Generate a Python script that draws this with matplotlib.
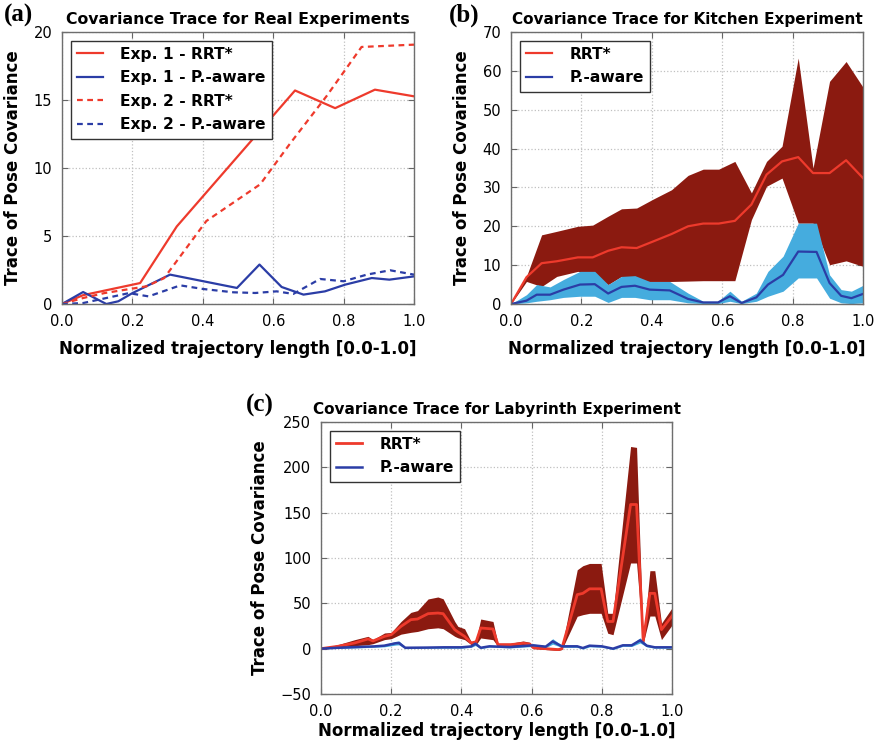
import matplotlib
matplotlib.use("Agg")
import matplotlib.pyplot as plt
from matplotlib.ticker import FormatStrFormatter

plt.rcParams["font.family"] = ["DejaVu Sans"]

RED = "#ee3a2c"
DARK_RED = "#8b1a10"
BLUE = "#2b3da6"
LIGHT_BLUE = "#45acde"

# ---- (a) real experiments ----
a_x1_rrt = [0, 0.06, 0.222, 0.326, 0.662, 0.776, 0.889, 1.0]
a_y1_rrt = [0, 0.65, 1.54, 5.7, 15.7, 14.4, 15.76, 15.27]
a_x1_pa = [0, 0.06, 0.126, 0.16, 0.2, 0.307, 0.497, 0.561, 0.624, 0.686, 0.747, 0.804, 0.88, 0.93, 1.0]
a_y1_pa = [0, 0.88, 0, 0.2, 0.8, 2.16, 1.18, 2.9, 1.25, 0.69, 0.93, 1.42, 1.91, 1.79, 2.03]
a_x2_rrt = [0, 0.06, 0.12, 0.24, 0.29, 0.41, 0.563, 0.648, 0.752, 0.851, 1.0]
a_y2_rrt = [0, 0.44, 0.8, 1.3, 1.9, 6.1, 8.8, 11.8, 15.3, 18.9, 19.07]
a_x2_pa = [0, 0.06, 0.19, 0.246, 0.336, 0.402, 0.487, 0.549, 0.61, 0.657, 0.733, 0.8, 0.866, 0.932, 1.0]
a_y2_pa = [0, 0.07, 0.8, 0.56, 1.37, 1.1, 0.86, 0.81, 0.93, 0.74, 1.84, 1.67, 2.16, 2.48, 2.16]

# ---- (b) kitchen ----
b_x_rrt = [0, 0.044, 0.087, 0.13, 0.19, 0.232, 0.276, 0.314, 0.357, 0.404, 0.456, 0.503,
           0.546, 0.59, 0.636, 0.683, 0.726, 0.77, 0.816, 0.858, 0.905, 0.952, 1.0]
b_rrt_mean = [0, 6.9, 10.5, 11.0, 12.0, 12.0, 13.7, 14.6, 14.4, 16.1, 18.0, 20.0,
              20.7, 20.7, 21.4, 25.6, 33.3, 36.7, 37.8, 33.7, 33.7, 37.0, 32.4]
b_rrt_upper = [0, 7.1, 17.8, 18.7, 20.0, 20.3, 22.6, 24.5, 24.7, 27.0, 29.4, 33.1,
               34.7, 34.7, 36.7, 28.6, 36.7, 40.6, 63.3, 35.0, 57.3, 62.4, 55.8]
b_rrt_lower = [0, 5.8, 4.5, 7.1, 8.4, 7.5, 5.0, 7.1, 5.8, 5.8, 5.8, 5.9,
               6.0, 6.0, 6.0, 21.7, 30.3, 32.4, 20.8, 20.8, 10.1, 11.1, 9.7]
b_x_pa = [0, 0.044, 0.073, 0.111, 0.149, 0.196, 0.238, 0.276, 0.314, 0.352, 0.394, 0.451, 0.503,
          0.546, 0.588, 0.622, 0.655, 0.697, 0.73, 0.773, 0.816, 0.868, 0.905, 0.938, 0.967, 1.0]
b_pa_mean = [0, 0.86, 2.4, 2.4, 3.7, 5.0, 5.1, 2.7, 4.4, 4.7, 3.7, 3.5, 1.3,
             0.4, 0.4, 2.0, 0.26, 1.7, 5.0, 7.5, 13.5, 13.4, 5.4, 2.1, 1.5, 2.6]
b_pa_upper = [0, 2.4, 5.0, 4.4, 6.3, 8.4, 8.4, 5.0, 7.1, 7.3, 5.8, 5.8, 2.8,
              0.7, 0.7, 3.3, 0.7, 2.8, 8.4, 12.3, 20.8, 20.8, 7.5, 3.7, 3.3, 4.8]
b_pa_lower = [0, 0.3, 0.7, 1.1, 1.7, 2.0, 2.0, 0.4, 1.7, 1.7, 1.1, 1.1, 0.3,
              0.1, 0.1, 0.7, 0.1, 0.7, 2.0, 3.3, 6.7, 6.7, 1.5, 0.3, 0.1, 0.3]

# ---- (c) labyrinth ----
c_x_rrt = [0.0, 0.048, 0.096, 0.134, 0.148, 0.181, 0.2, 0.228, 0.256, 0.275, 0.305, 0.333,
           0.348, 0.381, 0.39, 0.409, 0.428, 0.442, 0.455, 0.49, 0.504, 0.54, 0.576, 0.595,
           0.605, 0.64, 0.676, 0.686, 0.73, 0.746, 0.765, 0.798, 0.817, 0.832, 0.882, 0.899,
           0.918, 0.937, 0.951, 0.97, 1.0]
c_rrt_mean = [0, 2.6, 6.3, 10.7, 8.5, 13.6, 15.4, 24.6, 32, 32.7, 38.6, 39.3,
              38.6, 21, 18.4, 13.6, 6.3, 7.6, 22.8, 21.7, 4.4, 4.4, 6, 5,
              1, 0, -1, 0, 59.6, 61, 66, 66, 30, 30, 159, 159,
              8, 61, 61, 21, 36]
c_rrt_upper = [0, 4.4, 9.9, 13.6, 10, 17.3, 17.9, 30, 40, 42, 54.8, 57,
               55, 30, 24.6, 22, 7.6, 10, 32.7, 30, 6, 6, 8.5, 7,
               2, 1, 0, 1, 87, 91.5, 94, 94, 39, 39, 223, 222,
               10, 86, 86, 28, 45]
c_rrt_lower = [0, 2, 3.3, 4.4, 5.5, 10, 11, 16, 18, 19, 22, 23,
               22, 13.6, 12, 10, 4.4, 4.4, 11.8, 9.9, 2.5, 2.5, 3.5, 3,
               0, -1, -2, -1, 35.7, 37.5, 39, 39, 17, 15.4, 94.5, 94.5,
               6, 36, 36, 10, 26]
c_x_pa = [0, 0.05, 0.1, 0.15, 0.18, 0.213, 0.222, 0.24, 0.3, 0.35, 0.4, 0.428, 0.44, 0.455,
          0.48, 0.538, 0.605, 0.64, 0.66, 0.686, 0.73, 0.746, 0.765, 0.8, 0.832, 0.86,
          0.885, 0.909, 0.928, 0.951, 1.0]
c_pa_mean = [0, 1, 1.8, 2.5, 3.3, 6, 6.3, 1, 1.2, 1.5, 1.5, 2.5, 5.5, 1,
             2.6, 1.8, 3.7, 2.2, 8, 2.6, 2.6, 0.7, 3.3, 2.6, 0, 3.7,
             3.7, 9.2, 3.3, 1.5, 1.5]
c_pa_upper = [0, 1.8, 2.8, 3.5, 4.5, 8, 8.5, 2, 2, 2.5, 2.5, 3.5, 7.5, 2,
              3.5, 2.8, 5, 3.5, 11, 3.8, 3.8, 1.8, 4.5, 3.6, 1, 4.8,
              5, 12, 4.5, 2.5, 2.5]
c_pa_lower = [0, 0.2, 0.8, 1.5, 2, 4, 4.2, 0, 0.4, 0.5, 0.5, 1.5, 3.5, 0,
              1.7, 0.8, 2.4, 1, 5, 1.4, 1.4, -0.4, 2, 1.6, -1, 2.6,
              2.4, 6.3, 2, 0.5, 0.5]

TITLES = ["Covariance Trace for Real Experiments",
          "Covariance Trace for Kitchen Experiment",
          "Covariance Trace for Labyrinth Experiment"]
XLABEL = "Normalized trajectory length [0.0-1.0]"
YLABEL = "Trace of Pose Covariance"


def style_axes(ax, title, ylim, yticks, xlabelpad=8, title_size=11):
    ax.set_xlim(0, 1)
    ax.set_ylim(*ylim)
    ax.set_yticks(yticks)
    ax.set_xticks([0, 0.2, 0.4, 0.6, 0.8, 1.0])
    ax.xaxis.set_major_formatter(FormatStrFormatter("%.1f"))
    ax.tick_params(direction="in", length=4, width=0.8, color="#666666",
                   labelsize=10.5, pad=7, top=True, right=True)
    for s in ax.spines.values():
        s.set_color("#6e6e6e")
        s.set_linewidth(1.0)
    ax.grid(True, linestyle=":", color="#c0c0c0", linewidth=0.9)
    ax.set_axisbelow(True)
    ax.set_title(title, fontsize=title_size, fontweight="bold", pad=6)
    ax.set_xlabel(XLABEL, fontsize=12, fontweight="bold", labelpad=xlabelpad)
    ax.set_ylabel(YLABEL, fontsize=12, fontweight="bold", labelpad=8)


def add_legend(ax):
    leg = ax.legend(loc="upper left", fancybox=False, framealpha=1,
                    prop={"weight": "bold", "size": 11.2}, handlelength=1.7,
                    handletextpad=1.1, borderaxespad=0.55, labelspacing=0.55,
                    borderpad=0.4)
    leg.get_frame().set_edgecolor("#333333")
    leg.get_frame().set_linewidth(1.0)


fig = plt.figure(figsize=(8.8, 7.45), dpi=100)
W, H = 880, 745


def box(l, t, r, b):
    return [l / W, 1 - b / H, (r - l) / W, (b - t) / H]


# (a)
ax = fig.add_axes(box(62, 32, 414, 304))
ax.plot(a_x1_rrt, a_y1_rrt, color=RED, lw=1.6, label="Exp. 1 - RRT*")
ax.plot(a_x1_pa, a_y1_pa, color=BLUE, lw=1.6, label="Exp. 1 - P.-aware")
ax.plot(a_x2_rrt, a_y2_rrt, color=RED, lw=1.6, ls=(0, (2.6, 2.0)), label="Exp. 2 - RRT*")
ax.plot(a_x2_pa, a_y2_pa, color=BLUE, lw=1.6, ls=(0, (2.6, 2.0)), label="Exp. 2 - P.-aware")
style_axes(ax, TITLES[0], (0, 20), [0, 5, 10, 15, 20], title_size=11.3)
add_legend(ax)

# (b)
ax = fig.add_axes(box(511, 32, 863, 304))
ax.fill_between(b_x_rrt, b_rrt_lower, b_rrt_upper, color=DARK_RED, lw=0)
ax.fill_between(b_x_pa, b_pa_lower, b_pa_upper, color=LIGHT_BLUE, lw=0)
ax.plot(b_x_rrt, b_rrt_mean, color=RED, lw=1.6, label="RRT*")
ax.plot(b_x_pa, b_pa_mean, color=BLUE, lw=1.6, label="P.-aware")
style_axes(ax, TITLES[1], (0, 70), list(range(0, 71, 10)))
add_legend(ax)

# (c)
ax = fig.add_axes(box(321, 422, 672, 694))
ax.fill_between(c_x_rrt, c_rrt_lower, c_rrt_upper, color=DARK_RED, lw=0)
ax.fill_between(c_x_pa, c_pa_lower, c_pa_upper, color=LIGHT_BLUE, lw=0)
ax.plot(c_x_rrt, c_rrt_mean, color=RED, lw=2.0, label="RRT*")
ax.plot(c_x_pa, c_pa_mean, color=BLUE, lw=1.8, label="P.-aware")
style_axes(ax, TITLES[2], (-50, 250), list(range(-50, 251, 50)), xlabelpad=2)
add_legend(ax)

for lab, x, y in [("(a)", 4, 22), ("(b)", 449, 22), ("(c)", 246, 412)]:
    fig.text(x / W, 1 - y / H, lab, fontsize=18, fontweight="bold",
             family=["Liberation Serif", "DejaVu Serif"], va="baseline")

fig.savefig("out.png", dpi=100)
